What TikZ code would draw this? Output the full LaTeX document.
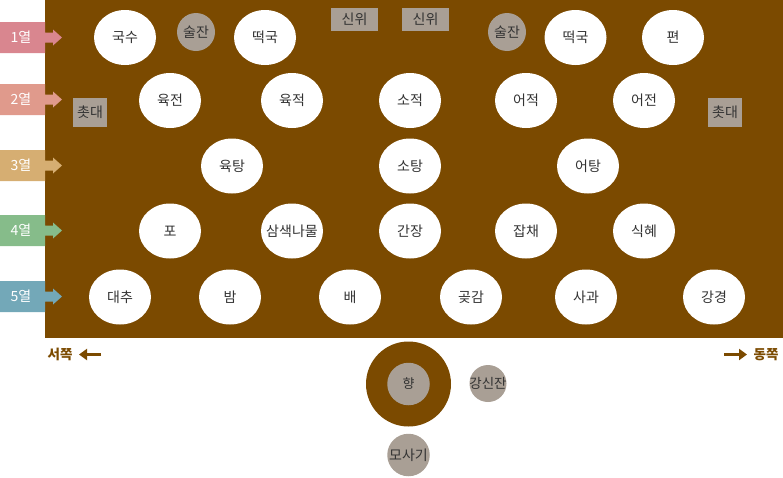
\documentclass[tikz,border=0pt]{standalone}
\usepackage{fontspec}
\setmainfont{Noto Sans CJK KR}
\usetikzlibrary{arrows.meta}
\definecolor{brn}{HTML}{7B4A00}
\definecolor{gry}{HTML}{A99F95}
\definecolor{txt}{HTML}{333333}
\definecolor{rA}{HTML}{D9868F}
\definecolor{rB}{HTML}{E09A8C}
\definecolor{rC}{HTML}{D6AE72}
\definecolor{rD}{HTML}{86BC8A}
\definecolor{rE}{HTML}{73A8B8}
\tikzset{
  dish/.style={ellipse, fill=white, minimum width=62pt, minimum height=55pt, inner sep=0pt, text=txt, font=\fontsize{14}{16}\selectfont},
  cup/.style={circle, fill=gry, minimum size=38pt, inner sep=0pt, text=txt, font=\fontsize{14}{16}\selectfont},
  tag/.style={fill=gry, inner sep=0pt, text=txt, font=\fontsize{14}{16}\selectfont},
  rowlab/.style={text=white, font=\fontsize{14}{16}\selectfont},
  dirlab/.style={text=brn, font=\fontsize{13.5}{15}\selectfont\bfseries},
  dirarrow/.style={draw=brn, line width=3pt, -{Triangle[length=8pt,width=11pt]}}
}
\usetikzlibrary{shapes.geometric}
\newcommand{\rowarrow}[3]{%
  \fill[#2] (0,#1-15.5) -- (45,#1-15.5) -- (45,#1-5) -- (53,#1-5) -- (53,#1-8) -- (62,#1) -- (53,#1+8) -- (53,#1+5) -- (45,#1+5) -- (45,#1+15.5) -- (0,#1+15.5) -- cycle;
  \node[rowlab] at (21,#1) {#3};}
\begin{document}
\begin{tikzpicture}[x=1pt,y=-1pt]
\useasboundingbox (0,0) rectangle (783,477);
\fill[brn] (45,0) rectangle (783,337.5);
% row labels
\rowarrow{37.5}{rA}{1열}
\rowarrow{99.5}{rB}{2열}
\rowarrow{165.5}{rC}{3열}
\rowarrow{230.5}{rD}{4열}
\rowarrow{296.5}{rE}{5열}
% row 1
\node[dish] (guksu) at (125,37.5) {국수};
\node[cup] (sul1) at (196,32) {술잔};
\node[dish] (tteok1) at (265,37.5) {떡국};
\node[tag, minimum width=47pt, minimum height=23pt] (sinwi1) at (354.5,19.5) {신위};
\node[tag, minimum width=47pt, minimum height=23pt] (sinwi2) at (425.5,19.5) {신위};
\node[cup] (sul2) at (507,32) {술잔};
\node[dish] (tteok2) at (575.5,37.5) {떡국};
\node[dish] (pyeon) at (673,37.5) {편};
% row 2
\node[tag, minimum width=34pt, minimum height=29pt] (chotL) at (90,112.5) {촛대};
\node[dish] (yukjeon) at (170,100.5) {육전};
\node[dish] (yukjeok) at (292,100.5) {육적};
\node[dish] (sojeok) at (410,100.5) {소적};
\node[dish] (eojeok) at (526,100.5) {어적};
\node[dish] (eojeon) at (644,100.5) {어전};
\node[tag, minimum width=34pt, minimum height=29pt] (chotR) at (725,112.5) {촛대};
% row 3
\node[dish] (yuktang) at (232,166) {육탕};
\node[dish] (sotang) at (410,166) {소탕};
\node[dish] (eotang) at (588,166) {어탕};
% row 4
\node[dish] (po) at (170,231) {포};
\node[dish, inner xsep=-12pt] (namul) at (292,231) {삼색나물};
\node[dish] (ganjang) at (410,231) {간장};
\node[dish] (japchae) at (526,231) {잡채};
\node[dish] (sikhye) at (644,231) {식혜};
% row 5
\node[dish] (daechu) at (120,297) {대추};
\node[dish] (bam) at (230,297) {밤};
\node[dish] (bae) at (350,297) {배};
\node[dish] (gotgam) at (471,297) {곶감};
\node[dish] (sagwa) at (586,297) {사과};
\node[dish] (gangjeong) at (714,297) {강경};
% bottom
\node[circle, fill=brn, minimum size=85pt, inner sep=0pt] (ring) at (408.5,384) {};
\node[circle, fill=gry, minimum size=42.5pt, inner sep=0pt, text=txt, font=\fontsize{13}{15}\selectfont] (hyang) at (408.5,384) {향};
\node[cup, minimum size=37pt, inner xsep=-6pt, font=\fontsize{13.5}{15}\selectfont] (gangsin) at (488,383.5) {강신잔};
\node[cup, minimum size=42.5pt, inner xsep=-4pt, font=\fontsize{14}{16}\selectfont] (mosagi) at (408.5,455) {모사기};
% directions
\node[dirlab] (west) at (60,354.5) {서쪽};
\coordinate (wA) at (101,354.5);
\coordinate (wB) at (79,354.5);
\draw[dirarrow] (wA) -- (wB);
\node[dirlab] (east) at (766,354.5) {동쪽};
\coordinate (eA) at (724,354.5);
\coordinate (eB) at (747,354.5);
\draw[dirarrow] (eA) -- (eB);
\end{tikzpicture}
\end{document}
